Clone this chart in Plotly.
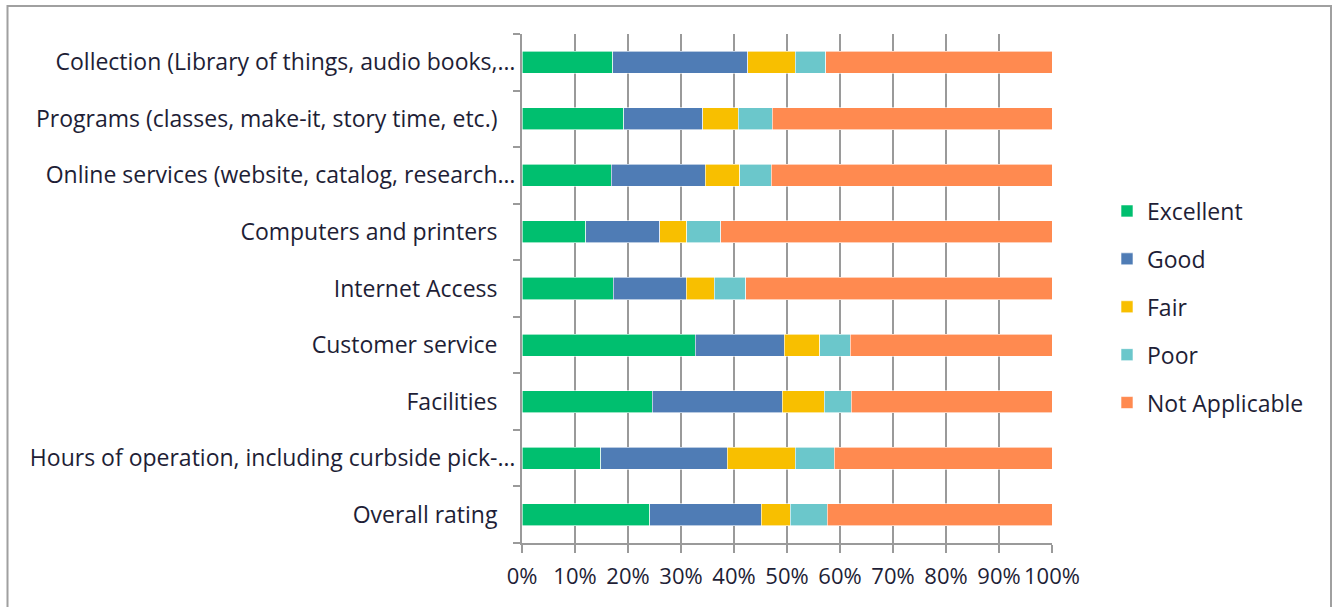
import plotly.graph_objects as go

# Survey rating categories (top to bottom)
categories = [
    "Collection",
    "Programs",
    "Online services",
    "Computers and printers",
    "Internet Access",
    "Customer service",
    "Facilities",
    "Hours of operation",
    "Overall rating",
]

# Axis labels as displayed (long ones are truncated with an ellipsis)
tick_labels = [
    "Collection (Library of things, audio books,…",
    "Programs (classes, make-it, story time, etc.)",
    "Online services (website, catalog, research…",
    "Computers and printers",
    "Internet Access",
    "Customer service",
    "Facilities",
    "Hours of operation, including curbside pick-…",
    "Overall rating",
]
truncated = [True, False, True, False, False, False, False, True, False]

# Share of responses per rating (percent)
excellent = [17.1, 19.2, 16.8, 12.0, 17.2, 32.7, 24.6, 14.9, 24.1]
good = [25.5, 14.9, 17.8, 14.0, 13.8, 16.8, 24.5, 23.8, 21.0]
fair = [9.0, 6.7, 6.5, 5.1, 5.3, 6.7, 7.9, 12.9, 5.5]
poor = [5.7, 6.4, 5.9, 6.4, 5.9, 5.7, 5.1, 7.3, 7.0]
not_applicable = [42.7, 52.8, 53.0, 62.5, 57.8, 38.1, 37.9, 41.1, 42.4]

series = [
    ("Excellent", excellent, "#00BF6F"),
    ("Good", good, "#4F7CB5"),
    ("Fair", fair, "#F8BF00"),
    ("Poor", poor, "#6BC7CB"),
    ("Not Applicable", not_applicable, "#FF8A50"),
]

FONT = "Open Sans"
FS = 23
TEXT = "#1e1e36"
GRID = "#9a9a9a"

W, H = 1333, 607
L, R, T, B = 522, 281, 34, 64

fig = go.Figure()
for name, vals, color in series:
    fig.add_trace(go.Bar(
        y=categories,
        x=vals,
        name=name,
        orientation="h",
        legendgroup=name,
        marker=dict(color=color, line=dict(color="white", width=0.6)),
    ))

# pad non-truncated labels so every label ends at the same spot
pad = "\u00a0" * 3
display = [t if tr else t + pad for t, tr in zip(tick_labels, truncated)]

# outer chart frame in pixel terms converted to paper coordinates
pw, ph = W - L - R, H - T - B
def px_x(x):
    return (x - L) / pw
def px_y(y):
    return (H - B - y) / ph

fig.add_shape(
    type="rect", xref="paper", yref="paper",
    x0=px_x(7.5), x1=px_x(1331), y0=px_y(640), y1=px_y(6),
    line=dict(color="#a0a0a0", width=2), fillcolor="rgba(0,0,0,0)",
    layer="below",
)

fig.update_layout(
    width=W, height=H,
    margin=dict(l=L, r=R, t=T, b=B),
    barmode="stack",
    barnorm="percent",
    bargap=0.61,
    paper_bgcolor="white",
    plot_bgcolor="white",
    font=dict(family=FONT, size=FS, color=TEXT),
    legend=dict(
        x=px_x(1107), xanchor="left",
        y=px_y(307), yanchor="middle",
        traceorder="grouped",
        tracegroupgap=15,
        font=dict(family=FONT, size=FS, color=TEXT),
        bgcolor="rgba(0,0,0,0)",
    ),
    xaxis=dict(
        range=[0, 100],
        dtick=10,
        tick0=0,
        ticksuffix="%",
        tickangle=0,
        tickfont=dict(size=22),
        showgrid=True,
        gridcolor=GRID,
        gridwidth=2,
        showline=True,
        linecolor=GRID,
        linewidth=2,
        ticks="outside",
        ticklen=8,
        tickwidth=2,
        tickcolor=GRID,
        ticklabelstandoff=5,
        zeroline=False,
        automargin=False,
        fixedrange=True,
    ),
    yaxis=dict(
        categoryorder="array",
        categoryarray=categories,
        autorange="reversed",
        tickmode="array",
        tickvals=categories,
        ticktext=display,
        showgrid=False,
        showline=True,
        linecolor=GRID,
        linewidth=2,
        ticks="outside",
        tickson="boundaries",
        ticklen=7,
        tickwidth=2,
        tickcolor=GRID,
        automargin=False,
        fixedrange=True,
    ),
)

fig.write_html("out.html")
